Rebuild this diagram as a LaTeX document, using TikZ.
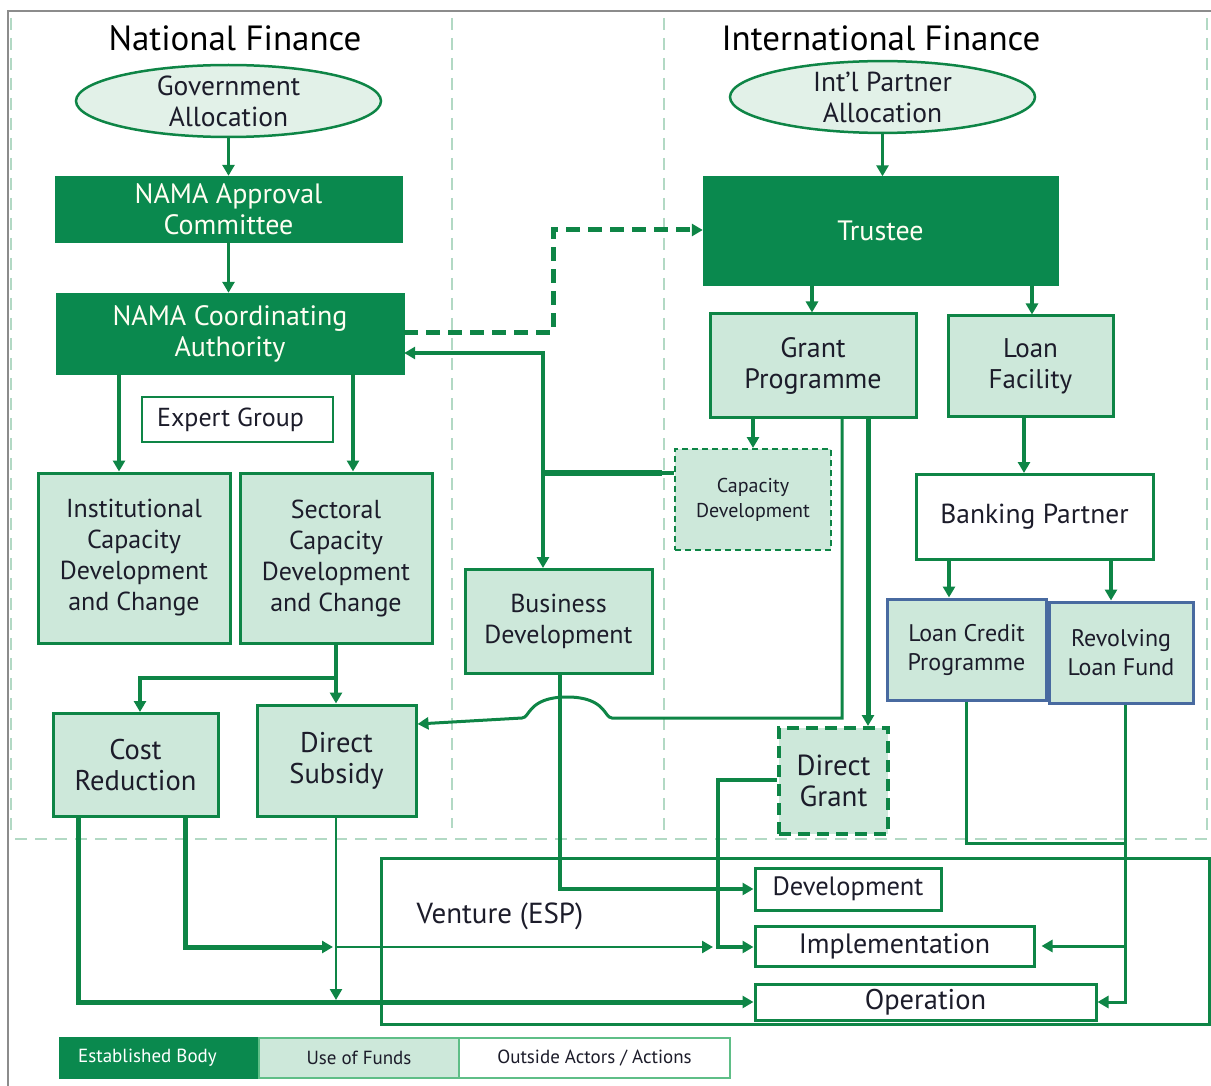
\documentclass[tikz,border=0pt]{standalone}
\usepackage{fontspec}
\setmainfont{PT Sans}
\usetikzlibrary{shapes.geometric,arrows.meta}

\definecolor{dkgreen}{RGB}{10,137,78}
\definecolor{ln}{RGB}{14,133,70}
\definecolor{pale}{RGB}{205,232,218}
\definecolor{paler}{RGB}{226,241,232}
\definecolor{sepc}{RGB}{178,217,196}
\definecolor{bluec}{RGB}{72,106,160}
\definecolor{legc}{RGB}{95,190,135}
\definecolor{ink}{RGB}{28,28,42}
\definecolor{frame}{RGB}{140,140,140}

\begin{document}
\begin{tikzpicture}[x=1pt,y=-1pt,
  every node/.style={text=ink, align=center, inner sep=0pt,
    font=\fontsize{26}{31}\selectfont},
  fs/.style={font=\fontsize{#1}{31}\selectfont},
  est/.style={fill=dkgreen, draw=dkgreen, text=white!95!yellow, fs=28},
  fund/.style={fill=pale, draw=ln, line width=3pt},
  outside/.style={fill=white, draw=ln, line width=3pt},
  bluebox/.style={fill=pale, draw=bluec, line width=3pt, font=\fontsize{24}{29}\selectfont},
  dashbox/.style={fill=pale, draw=ln, line width=2pt, dash pattern=on 6pt off 4pt},
  dashboxthick/.style={fill=pale, draw=ln, line width=4pt, dash pattern=on 12pt off 7pt},
  oval/.style={ellipse, fill=paler, draw=ln, line width=2.5pt, fs=27.5},
  small/.style={font=\fontsize{20}{25}\selectfont},
  legend/.style={font=\fontsize{19}{22}\selectfont, line width=2pt, draw=legc},
  title/.style={font=\fontsize{35}{40}\selectfont, text=black},
  sep/.style={draw=sepc, line width=2pt, dash pattern=on 12pt off 8pt},
  tip/.style={-{Triangle[length=11pt,width=12pt]}},
  conn/.style={draw=ln, line width=3.5pt, tip},
  connthick/.style={draw=ln, line width=5pt, tip},
  connthin/.style={draw=ln, line width=2.5pt, tip},
  plain/.style={draw=ln, line width=3.5pt},
]
\useasboundingbox (0,0) rectangle (1211,1086);

% frame and region separators
\draw[frame, line width=2pt] (8,1086) -- (8,11) -- (1211,11);
\draw[sep] (11,18) -- (11,836);
\draw[sep] (452,18) -- (452,828);
\draw[sep] (664,18) -- (664,835);
\draw[sep] (1207,18) -- (1207,835);
\draw[sep] (15,839) -- (1211,839);

% headings
\node[title] (natl) at (235,38) {National Finance};
\node[title] (intl) at (881,38) {International Finance};

% national side
\node[oval, minimum width=305, minimum height=66] (govt) at (228.5,101) {Government\\Allocation};
\node[est, minimum width=347, minimum height=66] (appr) at (228.5,209) {NAMA Approval\\Committee};
\node[est, minimum width=348, minimum height=81] (coord) at (230,333.5) {NAMA Coordinating\\Authority};
\node[outside, line width=2pt, minimum width=191, minimum height=45] (expert) at (237.5,419.5) {Expert Group\hspace*{14pt}};
\node[fund, minimum width=192, minimum height=170] (inst) at (134,558) {Institutional\\Capacity\\Development\\and Change};
\node[fund, minimum width=192, minimum height=170] (sect) at (336,558) {Sectoral\\Capacity\\Development\\and Change};
\node[fund, fs=28.5, minimum width=165, minimum height=103] (cost) at (135.5,765) {Cost\\Reduction};
\node[fund, fs=28.5, minimum width=159, minimum height=111] (subs) at (336.5,760.5) {Direct\\Subsidy};
\node[fund, minimum width=187, minimum height=104] (busdev) at (558.5,621.5) {Business\\Development};

% international side
\node[oval, minimum width=305, minimum height=66] (partner) at (882.5,97) {Int’l Partner\\Allocation};
\node[est, minimum width=355, minimum height=109] (trustee) at (880.5,231) {Trustee};
\node[fund, fs=28, minimum width=206, minimum height=103] (grant) at (813,365.5) {Grant\\Programme};
\node[fund, fs=27, minimum width=165, minimum height=100] (loanf) at (1030.5,366) {Loan\\Facility};
\node[dashbox, small, minimum width=156, minimum height=101] (capdev) at (753,499.5) {Capacity\\Development};
\node[outside, fs=27.5, minimum width=237, minimum height=85] (bank) at (1034.5,517) {Banking Partner};
\node[bluebox, minimum width=159, minimum height=101] (lcp) at (966.5,649.5) {Loan Credit\\Programme};
\node[bluebox, minimum width=144, minimum height=101] (rlf) at (1121,652.5) {Revolving\\Loan Fund};
\node[dashboxthick, fs=29, minimum width=109, minimum height=106] (dgrant) at (833.5,781) {Direct\\Grant};

% venture
\draw[ln, line width=3pt] (381,858) rectangle (1209,1024);
\node[fs=29] (venture) at (500,916) {Venture (ESP)};
\node[outside, fs=26.5, minimum width=186, minimum height=42] (devt) at (848,889) {Development};
\node[outside, fs=28, minimum width=279, minimum height=40] (impl) at (894.5,946) {Implementation};
\node[outside, fs=28.5, minimum width=341, minimum height=36] (oper) at (925.5,1002) {Operation};

% legend
\node[legend, est, text=white, font=\fontsize{19}{22}\selectfont, minimum width=199, minimum height=40] (lgest) at (159.5,1058) {Established Body\hspace*{24pt}};
\node[legend, fill=pale, minimum width=200, minimum height=40] (lgfund) at (359,1058) {Use of Funds};
\node[legend, fill=white, minimum width=271, minimum height=40] (lgout) at (594.5,1058) {Outside Actors / Actions};

% national flows
\draw[conn] (govt.south) -- (govt.south |- appr.north);
\draw[conn] (appr.south) -- (appr.south |- coord.north);
\draw[conn] (119,0 |- coord.south) -- (119,0 |- inst.north);
\draw[conn] (353,0 |- coord.south) -- (353,0 |- sect.north);
\coordinate (sj) at (336,678);
\draw[conn] (336,0 |- sect.south) -- (336,0 |- subs.north);
\draw[conn] (sj) -| (140,0 |- cost.north);

% capacity development feeding back
\coordinate (cj) at (543,473);
\draw[conn] (capdev.west |- cj) -- (cj) |- (coord.east |- 0,353);
\draw[ln, line width=6pt] (cj) -- (662,473);
\draw[conn] (cj) -- (cj |- busdev.north);
\draw[connthick, dash pattern=on 14pt off 8pt] (coord.east |- 0,332) -- (553,332) -- (553,230) -- (trustee.west |- 0,230);

% international flows
\draw[conn] (partner.south) -- (partner.south |- trustee.north);
\draw[conn] (812,0 |- trustee.south) -- (812,0 |- grant.north);
\draw[conn] (1032,0 |- trustee.south) -- (1032,0 |- loanf.north);
\draw[conn] (753,0 |- grant.south) -- (753,0 |- capdev.north);
\draw[conn] (1024,0 |- loanf.south) -- (1024,0 |- bank.north);
\draw[conn] (949,0 |- bank.south) -- (949,0 |- lcp.north);
\draw[conn] (1111,0 |- bank.south) -- (1111,0 |- rlf.north);

% grant programme to direct subsidy, hopping over the business line
\draw[conn, line width=3pt] (842,0 |- grant.south) -- (842,718) -- (612,718)
  .. controls (604,718) and (606,697) .. (567,697)
  .. controls (528,697) and (530,718) .. (522,718) -- (subs.east |- 0,724);
\draw[connthick] (868,0 |- grant.south) -- (868,0 |- dgrant.north);

% flows into the venture
\draw[conn] (560,0 |- busdev.south) |- (devt.west);
\draw[conn] (dgrant.west |- 0,780) -| (718,947) -- (impl.west |- 0,947);
\draw[connthick] (78,0 |- cost.south) |- (oper.west);
\draw[connthick] (185,0 |- cost.south) |- (333,947);
\draw[connthin] (336,947) -- (713,947);
\draw[connthin] (336,0 |- subs.south) -- (336,1000);
\draw[plain, line width=3pt] (966,0 |- lcp.south) -- (966,843) -- (1125,843);
\draw[conn, line width=3pt] (1125,0 |- rlf.south) |- (oper.east);
\draw[conn, line width=3pt, shorten >=6pt] (1125,946) -- (impl.east);
\end{tikzpicture}
\end{document}
